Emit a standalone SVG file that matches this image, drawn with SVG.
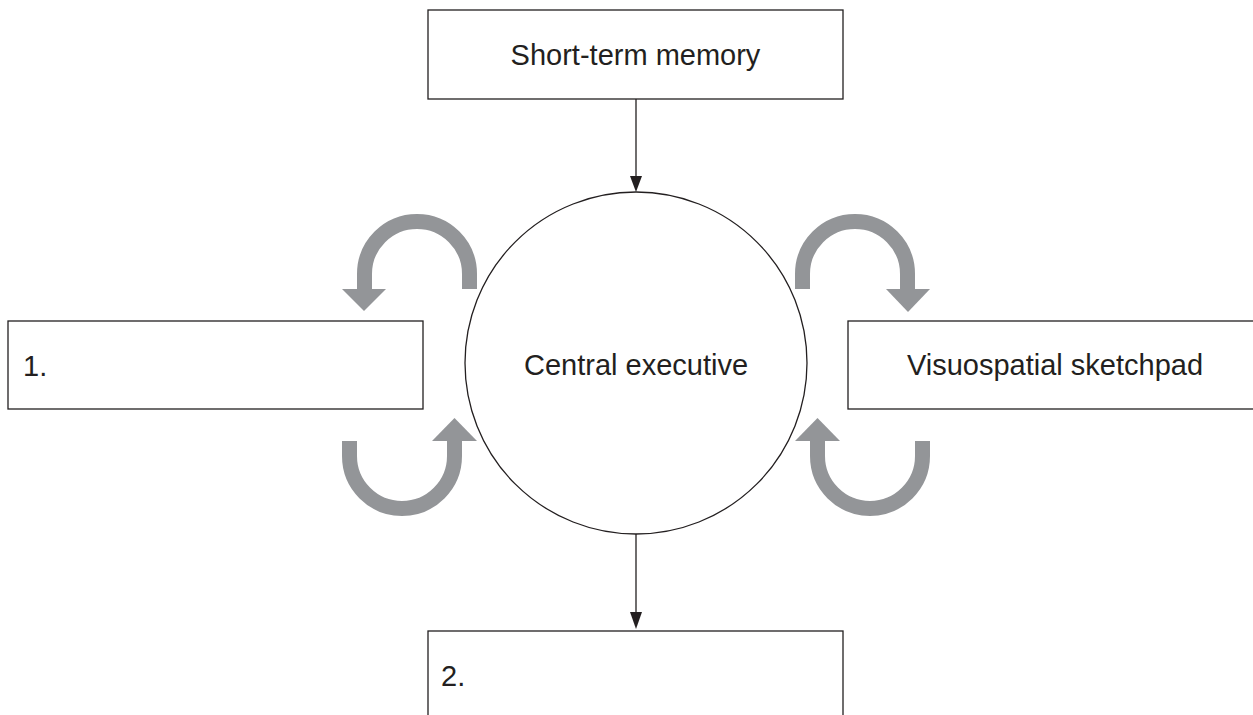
<svg xmlns="http://www.w3.org/2000/svg" width="1253" height="715" viewBox="0 0 1253 715">
  <style>
    .box { fill: #ffffff; stroke: #231f20; stroke-width: 1.3; }
    .lbl { font-family: "Liberation Sans", Arial, sans-serif; font-size: 29px; fill: #231f20; }
    .conn { stroke: #231f20; stroke-width: 1.3; fill: none; }
    .loop { stroke: #939598; stroke-width: 15; fill: none; }
    .loophead { fill: #939598; }
  </style>
  <rect width="1253" height="715" fill="#ffffff"/>

  <!-- connectors -->
  <g id="connectors">
    <line class="conn" x1="636" y1="99" x2="636" y2="176"/>
    <path d="M630,176 L642,176 L636,192 Z" fill="#231f20"/>
    <line class="conn" x1="636" y1="534" x2="636" y2="612"/>
    <path d="M630,612 L642,612 L636,629 Z" fill="#231f20"/>
  </g>

  <!-- feedback loops -->
  <g id="loop-upper-left">
    <path class="loop" d="M469.5,289 L469.5,274 A52.5,52.5 0 0 0 364.5,274 L364.5,289"/>
    <path class="loophead" d="M342,289 L386,289 L364,311 Z"/>
  </g>
  <g id="loop-upper-right">
    <path class="loop" d="M802.5,289 L802.5,274 A52.5,52.5 0 0 1 907.5,274 L907.5,289"/>
    <path class="loophead" d="M886,289 L930,289 L908,312 Z"/>
  </g>
  <g id="loop-lower-left">
    <path class="loop" d="M349.5,441 L349.5,456 A52.5,52.5 0 0 0 454.5,456 L454.5,441"/>
    <path class="loophead" d="M432,441 L477,441 L454.5,418 Z"/>
  </g>
  <g id="loop-lower-right">
    <path class="loop" d="M922.5,441 L922.5,456 A52.5,52.5 0 0 1 817.5,456 L817.5,441"/>
    <path class="loophead" d="M795,441 L840,441 L817.5,418 Z"/>
  </g>

  <!-- nodes -->
  <g id="short-term-memory">
    <rect class="box" x="428" y="10" width="415" height="89"/>
    <text class="lbl" x="635.5" y="65" text-anchor="middle">Short-term memory</text>
  </g>
  <g id="central-executive">
    <circle class="box" cx="636" cy="363" r="171"/>
    <text class="lbl" x="636" y="375" text-anchor="middle">Central executive</text>
  </g>
  <g id="slot-1">
    <rect class="box" x="8" y="321" width="415" height="88"/>
    <text class="lbl" x="23" y="376">1.</text>
  </g>
  <g id="visuospatial-sketchpad">
    <rect class="box" x="848" y="321" width="415" height="88"/>
    <text class="lbl" x="1055" y="375" text-anchor="middle">Visuospatial sketchpad</text>
  </g>
  <g id="slot-2">
    <rect class="box" x="428" y="631" width="415" height="100"/>
    <text class="lbl" x="441" y="686">2.</text>
  </g>
</svg>
